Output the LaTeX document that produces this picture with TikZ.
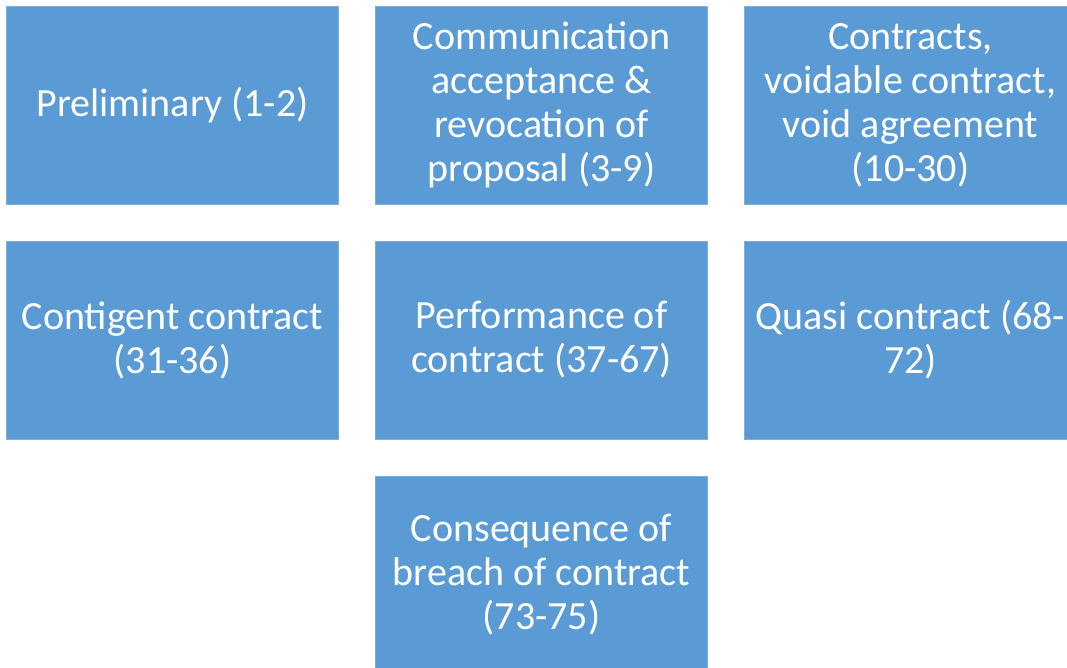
\documentclass[tikz,border=0pt]{standalone}
\usepackage{fontspec}
\setmainfont{Carlito}
\usetikzlibrary{positioning}
\definecolor{box-blue}{RGB}{91, 155, 213}
\tikzset{topic/.style={fill=box-blue, draw=box-blue!80!white, line width=0.8pt, text=white,
    minimum width=332pt, minimum height=198pt, inner sep=0pt, outer sep=0pt, align=center,
    font=\fontsize{40pt}{44pt}\selectfont}}

\begin{document}
\begin{tikzpicture}[x=1pt, y=1pt]
                \useasboundingbox (0, 0) rectangle (1067, -667);
                \clip (0, 0) rectangle (1067, -667);
                \node[topic] (prelim) at (172.5, -105) {Preliminary (1-2)};
                \node[topic, right=37pt of prelim] (comm) {Communication\\acceptance \&\\revocation of\\proposal (3-9)};
                \node[topic, right=37pt of comm] (void) {Contracts,\\voidable contract,\\void agreement\\(10-30)};
                \node[topic, below=37pt of prelim] (contig) {Contigent contract\\(31-36)};
                \node[topic, below=37pt of comm] (perf) {Performance of\\contract (37-67)};
                \node[topic, below=37pt of void] (quasi) {Quasi contract (68-\\72)};
                \node[topic, below=37pt of perf] (breach) {Consequence of\\breach of contract\\(73-75)};
            \end{tikzpicture}
\end{document}
